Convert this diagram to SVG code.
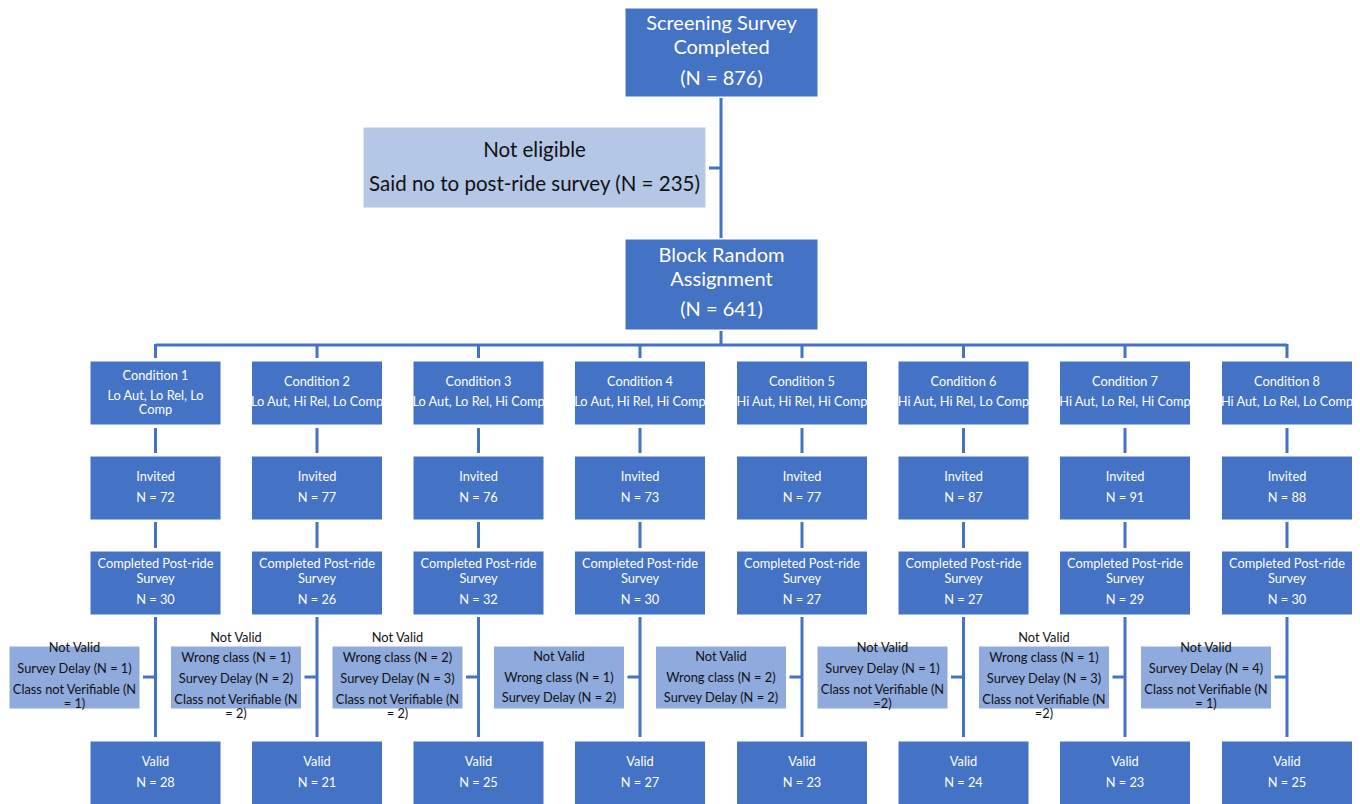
<svg xmlns="http://www.w3.org/2000/svg" width="1360" height="804" viewBox="0 0 1360 804">
<style>
.n{fill:#4472c4;stroke:#ffffff;stroke-width:1}
.e{fill:#b4c7e7;stroke:#ffffff;stroke-width:1}
.l{fill:#8faadc;stroke:#ffffff;stroke-width:1}
text{font-family:Lato,"Open Sans","Liberation Sans",sans-serif;text-anchor:middle}
.w{fill:#ffffff;font-size:12.8px}
.W{fill:#ffffff;font-size:20px}
.k{fill:#111111;font-size:12.8px}
.K{fill:#111111;font-size:20.5px}
.c{stroke:#4472c4;stroke-width:3;fill:none}
</style>
<rect width="1360" height="804" fill="#ffffff"/>
<g id="connectors">
<path class="c" d="M721,98V238M709,168H721"/>
<path class="c" d="M721,331V345M155.5,345H1287"/>
<path class="c" d="M155.5,344V358M317,344V358M478.5,344V358M640,344V358M802,344V358M963.5,344V358M1125,344V358M1287,344V358"/>
<path class="c" d="M155.5,428V453M317,428V453M478.5,428V453M640,428V453M802,428V453M963.5,428V453M1125,428V453M1287,428V453"/>
<path class="c" d="M155.5,522V548M317,522V548M478.5,522V548M640,522V548M802,522V548M963.5,522V548M1125,522V548M1287,522V548"/>
<path class="c" d="M155.5,617V737M317,617V737M478.5,617V737M640,617V737M802,617V737M963.5,617V737M1125,617V737M1287,617V737"/>
<path class="c" d="M143,677H155.5M304.5,677H317M466,677H478.5M627.5,677H640M789.5,677H802M951,677H963.5M1112.5,677H1125M1274.5,677H1287"/>
</g>
<g id="screening"><rect class="n" x="625" y="8" width="193" height="89"/>
<text class="W" x="721.5" y="30">Screening Survey</text><text class="W" x="721.5" y="54">Completed</text><text class="W" x="721.5" y="85">(N = 876)</text></g>
<g id="noteligible"><rect class="e" x="363" y="127" width="343" height="81"/>
<text class="K" x="534.5" y="157">Not eligible</text><text class="K" x="534.5" y="191">Said no to post-ride survey (N = 235)</text></g>
<g id="block"><rect class="n" x="625" y="239" width="193" height="91"/>
<text class="W" x="721.5" y="262">Block Random</text><text class="W" x="721.5" y="286">Assignment</text><text class="W" x="721.5" y="316">(N = 641)</text></g>

<g id="cond1"><rect class="n" x="90" y="361" width="131" height="64"/><text class="w" x="155.5" y="380">Condition 1</text><text class="w" x="155.5" y="400">Lo Aut, Lo Rel, Lo</text><text class="w" x="155.5" y="414">Comp</text></g>
<g id="cond2"><rect class="n" x="251.5" y="361" width="131" height="64"/><text class="w" x="317" y="386">Condition 2</text><text class="w" x="317" y="406">Lo Aut, Hi Rel, Lo Comp</text></g>
<g id="cond3"><rect class="n" x="413" y="361" width="131" height="64"/><text class="w" x="478.5" y="386">Condition 3</text><text class="w" x="478.5" y="406">Lo Aut, Lo Rel, Hi Comp</text></g>
<g id="cond4"><rect class="n" x="574.5" y="361" width="131" height="64"/><text class="w" x="640" y="386">Condition 4</text><text class="w" x="640" y="406">Lo Aut, Hi Rel, Hi Comp</text></g>
<g id="cond5"><rect class="n" x="736.5" y="361" width="131" height="64"/><text class="w" x="802" y="386">Condition 5</text><text class="w" x="802" y="406">Hi Aut, Hi Rel, Hi Comp</text></g>
<g id="cond6"><rect class="n" x="898" y="361" width="131" height="64"/><text class="w" x="963.5" y="386">Condition 6</text><text class="w" x="963.5" y="406">Hi Aut, Hi Rel, Lo Comp</text></g>
<g id="cond7"><rect class="n" x="1059.5" y="361" width="131" height="64"/><text class="w" x="1125" y="386">Condition 7</text><text class="w" x="1125" y="406">Hi Aut, Lo Rel, Hi Comp</text></g>
<g id="cond8"><rect class="n" x="1221.5" y="361" width="131" height="64"/><text class="w" x="1287" y="386">Condition 8</text><text class="w" x="1287" y="406">Hi Aut, Lo Rel, Lo Comp</text></g>

<g id="inv1"><rect class="n" x="90" y="456" width="131" height="64"/><text class="w" x="155.5" y="481">Invited</text><text class="w" x="155.5" y="502">N = 72</text></g>
<g id="inv2"><rect class="n" x="251.5" y="456" width="131" height="64"/><text class="w" x="317" y="481">Invited</text><text class="w" x="317" y="502">N = 77</text></g>
<g id="inv3"><rect class="n" x="413" y="456" width="131" height="64"/><text class="w" x="478.5" y="481">Invited</text><text class="w" x="478.5" y="502">N = 76</text></g>
<g id="inv4"><rect class="n" x="574.5" y="456" width="131" height="64"/><text class="w" x="640" y="481">Invited</text><text class="w" x="640" y="502">N = 73</text></g>
<g id="inv5"><rect class="n" x="736.5" y="456" width="131" height="64"/><text class="w" x="802" y="481">Invited</text><text class="w" x="802" y="502">N = 77</text></g>
<g id="inv6"><rect class="n" x="898" y="456" width="131" height="64"/><text class="w" x="963.5" y="481">Invited</text><text class="w" x="963.5" y="502">N = 87</text></g>
<g id="inv7"><rect class="n" x="1059.5" y="456" width="131" height="64"/><text class="w" x="1125" y="481">Invited</text><text class="w" x="1125" y="502">N = 91</text></g>
<g id="inv8"><rect class="n" x="1221.5" y="456" width="131" height="64"/><text class="w" x="1287" y="481">Invited</text><text class="w" x="1287" y="502">N = 88</text></g>

<g id="comp1"><rect class="n" x="90" y="551" width="131" height="64"/><text class="w" x="155.5" y="568">Completed Post-ride</text><text class="w" x="155.5" y="583">Survey</text><text class="w" x="155.5" y="604">N = 30</text></g>
<g id="comp2"><rect class="n" x="251.5" y="551" width="131" height="64"/><text class="w" x="317" y="568">Completed Post-ride</text><text class="w" x="317" y="583">Survey</text><text class="w" x="317" y="604">N = 26</text></g>
<g id="comp3"><rect class="n" x="413" y="551" width="131" height="64"/><text class="w" x="478.5" y="568">Completed Post-ride</text><text class="w" x="478.5" y="583">Survey</text><text class="w" x="478.5" y="604">N = 32</text></g>
<g id="comp4"><rect class="n" x="574.5" y="551" width="131" height="64"/><text class="w" x="640" y="568">Completed Post-ride</text><text class="w" x="640" y="583">Survey</text><text class="w" x="640" y="604">N = 30</text></g>
<g id="comp5"><rect class="n" x="736.5" y="551" width="131" height="64"/><text class="w" x="802" y="568">Completed Post-ride</text><text class="w" x="802" y="583">Survey</text><text class="w" x="802" y="604">N = 27</text></g>
<g id="comp6"><rect class="n" x="898" y="551" width="131" height="64"/><text class="w" x="963.5" y="568">Completed Post-ride</text><text class="w" x="963.5" y="583">Survey</text><text class="w" x="963.5" y="604">N = 27</text></g>
<g id="comp7"><rect class="n" x="1059.5" y="551" width="131" height="64"/><text class="w" x="1125" y="568">Completed Post-ride</text><text class="w" x="1125" y="583">Survey</text><text class="w" x="1125" y="604">N = 29</text></g>
<g id="comp8"><rect class="n" x="1221.5" y="551" width="131" height="64"/><text class="w" x="1287" y="568">Completed Post-ride</text><text class="w" x="1287" y="583">Survey</text><text class="w" x="1287" y="604">N = 30</text></g>

<g id="nv1"><rect class="l" x="9" y="646" width="131" height="63"/><text class="k" x="74.5" y="652">Not Valid</text><text class="k" x="74.5" y="673">Survey Delay (N = 1)</text><text class="k" x="74.5" y="694">Class not Verifiable (N</text><text class="k" x="74.5" y="708">= 1)</text></g>
<g id="nv2"><rect class="l" x="170.5" y="646" width="131" height="63"/><text class="k" x="236" y="641.5">Not Valid</text><text class="k" x="236" y="662">Wrong class (N = 1)</text><text class="k" x="236" y="683">Survey Delay (N = 2)</text><text class="k" x="236" y="704">Class not Verifiable (N</text><text class="k" x="236" y="718">= 2)</text></g>
<g id="nv3"><rect class="l" x="332" y="646" width="131" height="63"/><text class="k" x="397.5" y="641.5">Not Valid</text><text class="k" x="397.5" y="662">Wrong class (N = 2)</text><text class="k" x="397.5" y="683">Survey Delay (N = 3)</text><text class="k" x="397.5" y="704">Class not Verifiable (N</text><text class="k" x="397.5" y="718">= 2)</text></g>
<g id="nv4"><rect class="l" x="493.5" y="646" width="131" height="63"/><text class="k" x="559" y="661">Not Valid</text><text class="k" x="559" y="681.5">Wrong class (N = 1)</text><text class="k" x="559" y="702">Survey Delay (N = 2)</text></g>
<g id="nv5"><rect class="l" x="655.5" y="646" width="131" height="63"/><text class="k" x="721" y="661">Not Valid</text><text class="k" x="721" y="681.5">Wrong class (N = 2)</text><text class="k" x="721" y="702">Survey Delay (N = 2)</text></g>
<g id="nv6"><rect class="l" x="817" y="646" width="131" height="63"/><text class="k" x="882.5" y="652">Not Valid</text><text class="k" x="882.5" y="673">Survey Delay (N = 1)</text><text class="k" x="882.5" y="694">Class not Verifiable (N</text><text class="k" x="882.5" y="708">=2)</text></g>
<g id="nv7"><rect class="l" x="978.5" y="646" width="131" height="63"/><text class="k" x="1044" y="641.5">Not Valid</text><text class="k" x="1044" y="662">Wrong class (N = 1)</text><text class="k" x="1044" y="683">Survey Delay (N = 3)</text><text class="k" x="1044" y="704">Class not Verifiable (N</text><text class="k" x="1044" y="718">=2)</text></g>
<g id="nv8"><rect class="l" x="1140.5" y="646" width="131" height="63"/><text class="k" x="1206" y="652">Not Valid</text><text class="k" x="1206" y="673">Survey Delay (N = 4)</text><text class="k" x="1206" y="694">Class not Verifiable (N</text><text class="k" x="1206" y="708">= 1)</text></g>

<g id="val1"><rect class="n" x="90" y="741" width="131" height="70"/><text class="w" x="155.5" y="766">Valid</text><text class="w" x="155.5" y="787">N = 28</text></g>
<g id="val2"><rect class="n" x="251.5" y="741" width="131" height="70"/><text class="w" x="317" y="766">Valid</text><text class="w" x="317" y="787">N = 21</text></g>
<g id="val3"><rect class="n" x="413" y="741" width="131" height="70"/><text class="w" x="478.5" y="766">Valid</text><text class="w" x="478.5" y="787">N = 25</text></g>
<g id="val4"><rect class="n" x="574.5" y="741" width="131" height="70"/><text class="w" x="640" y="766">Valid</text><text class="w" x="640" y="787">N = 27</text></g>
<g id="val5"><rect class="n" x="736.5" y="741" width="131" height="70"/><text class="w" x="802" y="766">Valid</text><text class="w" x="802" y="787">N = 23</text></g>
<g id="val6"><rect class="n" x="898" y="741" width="131" height="70"/><text class="w" x="963.5" y="766">Valid</text><text class="w" x="963.5" y="787">N = 24</text></g>
<g id="val7"><rect class="n" x="1059.5" y="741" width="131" height="70"/><text class="w" x="1125" y="766">Valid</text><text class="w" x="1125" y="787">N = 23</text></g>
<g id="val8"><rect class="n" x="1221.5" y="741" width="131" height="70"/><text class="w" x="1287" y="766">Valid</text><text class="w" x="1287" y="787">N = 25</text></g>
</svg>
